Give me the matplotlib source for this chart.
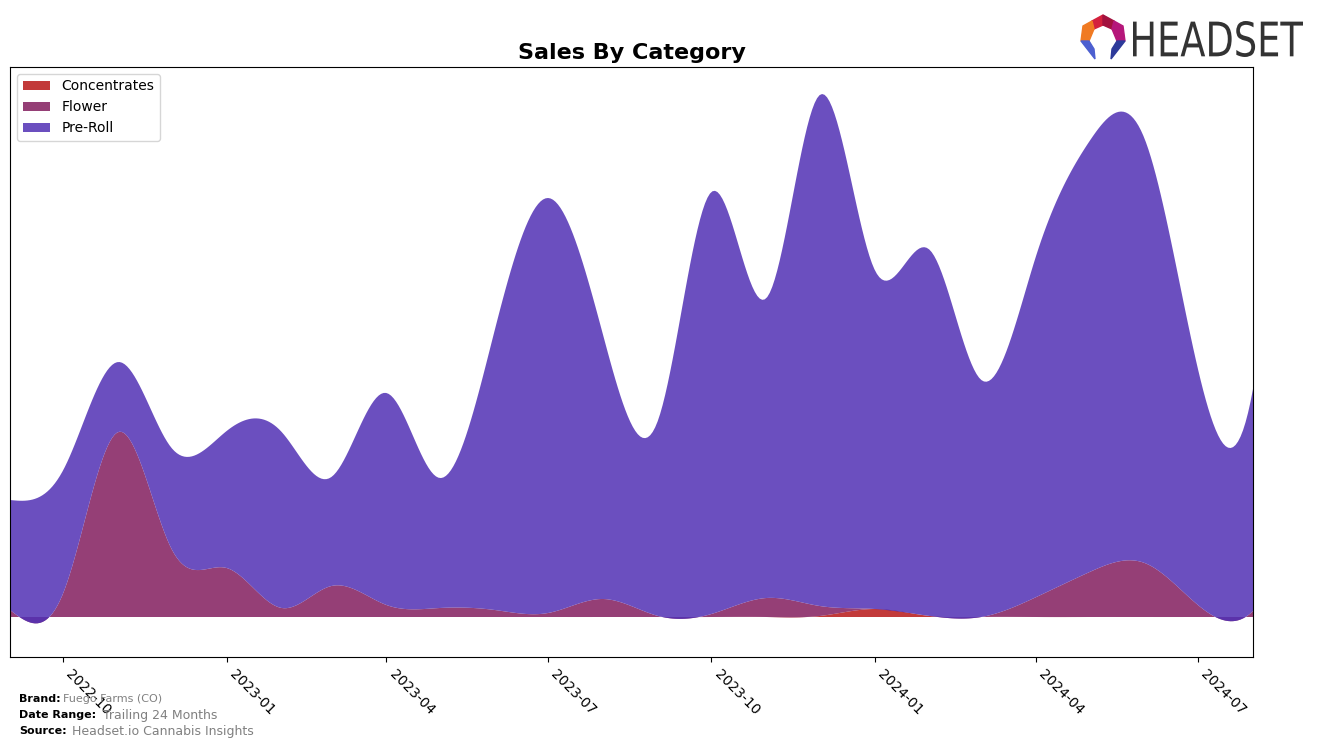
import numpy as np
import pandas as pd
import matplotlib
matplotlib.use("Agg")
import matplotlib.pyplot as plt
import matplotlib.dates as mdates
from matplotlib.patches import Polygon, PathPatch
from matplotlib.textpath import TextPath
from matplotlib.font_manager import FontProperties
from matplotlib.transforms import Affine2D, IdentityTransform

# monthly sales by category (arbitrary units)
months = pd.date_range("2022-09-01", "2024-08-01", freq="MS")
concentrates = [0, 0, 0, 0, 0, 0, 0, 0, 0, 0, 0, 0,
                0, 0, 0, 1, 8, 1, 0, 0, 0, 0, 0, 0]
flower = [7, 24, 185, 68, 49, 9, 31, 12, 9, 7, 4, 18,
          1, 3, 19, 10, 0, 0, 0, 20, 45, 54, 12, 6]
pre_roll = [110, 123, 70, 101, 137, 176, 109, 212, 130, 280, 415, 264,
            196, 422, 300, 511, 339, 366, 237, 342, 431, 424, 236, 222]
labels = ["Concentrates", "Flower", "Pre-Roll"]
colors = ["#b81717", "#831d5e", "#5130b4"]


def spline(x, y, xs):
    # cubic spline: natural at the start, not-a-knot at the end
    x = np.asarray(x, float)
    y = np.asarray(y, float)
    n = len(x)
    h = np.diff(x)
    A = np.zeros((n, n))
    b = np.zeros(n)
    A[0, 0] = 1
    A[-1, -3], A[-1, -2], A[-1, -1] = h[-1], -(h[-2] + h[-1]), h[-2]
    for i in range(1, n - 1):
        A[i, i - 1] = h[i - 1]
        A[i, i] = 2 * (h[i - 1] + h[i])
        A[i, i + 1] = h[i]
        b[i] = 3 * ((y[i + 1] - y[i]) / h[i] - (y[i] - y[i - 1]) / h[i - 1])
    c = np.linalg.solve(A, b)
    bc = (y[1:] - y[:-1]) / h - h * (2 * c[:-1] + c[1:]) / 3
    d = (c[1:] - c[:-1]) / (3 * h)
    idx = np.clip(np.searchsorted(x, xs) - 1, 0, n - 2)
    dx = xs - x[idx]
    return y[idx] + bc[idx] * dx + c[idx] * dx ** 2 + d[idx] * dx ** 3


xnum = mdates.date2num(months)
xs = np.linspace(xnum[0], xnum[-1], 500)
series = [spline(xnum, s, xs) for s in (concentrates, flower, pre_roll)]

fig = plt.figure(figsize=(13.17, 7.47), dpi=100)
ax = fig.add_axes([10 / 1317, 1 - 657 / 747, 1243 / 1317, 590 / 747])
ax.stackplot(mdates.num2date(xs), *series, labels=labels, colors=colors, alpha=0.85)

ax.set_xlim(months[0], months[-1])
ax.set_ylim(-40, 550)
ax.set_yticks([])
ax.xaxis.set_major_locator(mdates.MonthLocator(bymonth=[1, 4, 7, 10]))
ax.xaxis.set_major_formatter(mdates.DateFormatter("%Y-%m"))
plt.setp(ax.get_xticklabels(), rotation=-45, ha="left", fontsize=10)
ax.set_title("Sales By Category", fontsize=16, fontweight="bold", pad=6)
ax.legend(loc="upper left", fontsize=10)

# footer
fig.text(19 / 1317, 1 - 699 / 747, "Brand:", fontsize=8, fontweight="bold", va="center")
fig.text(63 / 1317, 1 - 699 / 747, "Fuego Farms (CO)", fontsize=8, color="gray", va="center")
fig.text(19 / 1317, 1 - 715 / 747, "Date Range:", fontsize=8, fontweight="bold", va="center")
fig.text(103 / 1317, 1 - 715 / 747, "Trailing 24 Months", fontsize=9, color="gray", va="center")
fig.text(19 / 1317, 1 - 731 / 747, "Source:", fontsize=8, fontweight="bold", va="center")
fig.text(72 / 1317, 1 - 731 / 747, "Headset.io Cannabis Insights", fontsize=9, color="gray", va="center")

# logo
lax = fig.add_axes([1078 / 1317, 1 - 63 / 747, 50 / 1317, 50 / 747])
lax.set_xlim(0, 50)
lax.set_ylim(50, 0)
lax.axis("off")
pieces = [
    ([(14, 8), (25, 2), (25, 12), (16, 16)], "#d4213d"),
    ([(25, 2), (36, 8), (34, 16), (25, 12)], "#a3123f"),
    ([(14, 8), (16, 16), (11, 28), (3, 28), (5, 13)], "#f07a22"),
    ([(36, 8), (45, 13), (47, 28), (39, 28), (34, 16)], "#b5177a"),
    ([(3, 28), (11, 28), (16, 36), (17, 46)], "#4c5fd0"),
    ([(39, 28), (47, 28), (33, 46), (34, 36)], "#2d3a9a"),
]
for pts, col in pieces:
    lax.add_patch(Polygon(pts, closed=True, color=col))

# logo word, squeezed to the narrow look of the original
tp = TextPath((0, 0), "HEADSET", size=50, prop=FontProperties(family="DejaVu Sans"))
ext = tp.get_extents()
sx = 170 / ext.width
sy = 36 / ext.height
word = Affine2D().translate(-ext.x0, -ext.y0).scale(sx, sy).translate(1133, 747 - 57)
fig.patches.append(PathPatch(tp, transform=word + IdentityTransform(), color="#333333",
                             lw=0, figure=fig))

fig.savefig("out.png", dpi=100)
